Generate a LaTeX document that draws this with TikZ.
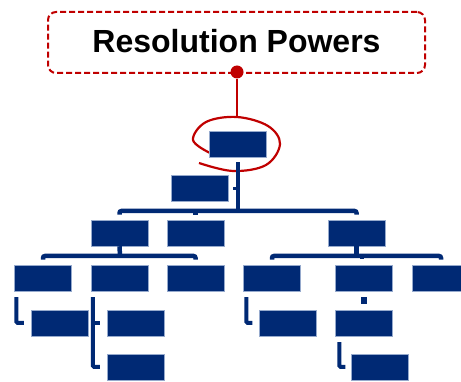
\documentclass[tikz,border=0pt]{standalone}
\usepackage{fontspec}
\setmainfont{Liberation Sans}
\usetikzlibrary{calc}
\definecolor{navy}{RGB}{0,41,116}
\definecolor{navyedge}{RGB}{150,170,205}
\definecolor{dred}{RGB}{192,0,0}
\tikzset{
  blk/.style={fill=navy, draw=navyedge, line width=0.5pt, inner sep=0pt, minimum width=57pt, minimum height=26pt},
  conn/.style={draw=navy, line width=4.5pt, rounded corners=2pt},
  brk/.style={draw=navy, line width=4pt, rounded corners=1.5pt},
  redl/.style={draw=dred, line width=2pt},
}
\begin{document}
\begin{tikzpicture}[x=1pt,y=-1pt]
\useasboundingbox (0,0) rectangle (461,382);
% title
\node[draw=dred, line width=2pt, dash pattern=on 6pt off 3pt, rounded corners=8pt, minimum width=377pt, minimum height=61pt, inner sep=0pt] (title) at (236.5,42.5) {};
\node[anchor=base, inner sep=0pt, font=\fontsize{32}{36}\selectfont\bfseries] (tt) at (236.5,53) {Resolution Powers};
\node[circle, fill=dred, minimum size=13pt, inner sep=0pt] (dot) at (237,72) {};
\coordinate (etop) at (237,117);
\draw[redl, line width=1.5pt] (dot) -- (etop);
% red loop
\draw[redl, line width=2.2pt] plot[smooth, tension=0.6] coordinates {(199,163) (233,171) (266,165) (280,144) (268,126) (237,117) (206,122) (193,140) (210,153)};
% nodes
\node[blk] (root) at (238,144) {};
\node[blk] (asst) at (199.5,188.5) {};
\node[blk] (A) at (119.5,233) {};
\node[blk] (B) at (195.5,233) {};
\node[blk] (C) at (356.5,233) {};
\node[blk] (D) at (43,278) {};
\node[blk] (E) at (119.5,278) {};
\node[blk] (F) at (195.5,278) {};
\node[blk] (G) at (272,278) {};
\node[blk] (H) at (364,278) {};
\node[blk] (I) at (441,278) {};
\node[blk] (D1) at (59.5,323) {};
\node[blk] (E1) at (135.5,323) {};
\node[blk] (E2) at (135.5,367) {};
\node[blk] (G1) at (288,323) {};
\node[blk] (H1) at (364,323) {};
\node[blk] (H2) at (380,367) {};
% top tree
\coordinate (st) at ([yshift=-5pt]root.south);
\coordinate (bar) at (238,211);
\draw[conn, rounded corners=0pt] (st) -- (bar);
\draw[conn, line width=3pt, rounded corners=0pt] ([xshift=5pt]asst.east) -- (asst.east -| st);
\draw[conn] ([yshift=5pt]A.north) |- (bar) -| ([yshift=5pt]C.north);
\draw[conn] (B.north |- bar) -- ([yshift=5pt]B.north);
% left subtree
\coordinate (lb) at (120,256);
\draw[conn, rounded corners=0pt] (A.south) -- (lb);
\draw[conn] ([yshift=5pt]D.north) |- (lb) -| ([yshift=5pt]F.north);
% right subtree
\coordinate (rb) at (362,256);
\draw[conn, rounded corners=0pt] (rb -| C.south) -- (C.south);
\draw[conn] ([yshift=5pt]G.north) |- (rb) -| ([yshift=5pt]I.north);
\draw[conn, rounded corners=0pt] (rb) -- ++(0,3);
% brackets
\draw[brk] ([xshift=2pt,yshift=-6pt]D.south west) |- ([xshift=-7pt]D1.west);
\draw[brk] ([xshift=2pt,yshift=-6pt]E.south west) |- ([xshift=-7pt]E2.west);
\draw[brk, rounded corners=0pt] ([xshift=-7pt]E1.west) -- ([xshift=-14pt]E1.west);
\draw[brk] ([xshift=3pt,yshift=-6pt]G.south west) |- ([xshift=-7pt]G1.west);
\draw[conn, line width=5.5pt, rounded corners=0pt] ([yshift=-6pt]H.south) -- ([yshift=-13pt]H.south);
\draw[brk] ([xshift=4pt,yshift=-6pt]H1.south west) |- ([xshift=-6pt]H2.west);
\end{tikzpicture}
\end{document}
